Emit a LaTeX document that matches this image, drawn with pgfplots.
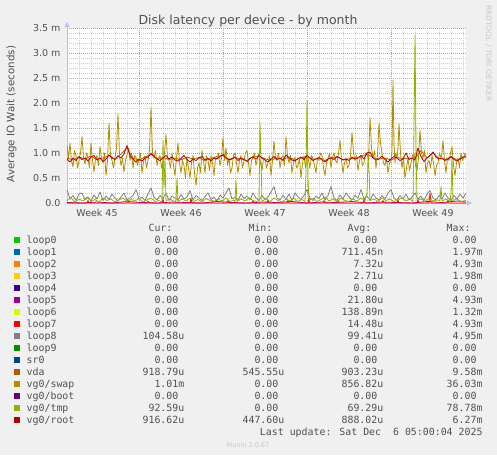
\documentclass[border=0pt]{standalone}
\usepackage{pgfplots}
\pgfplotsset{compat=1.18}
\usepackage{pgfplotstable}
\usetikzlibrary{arrows.meta}
\usepackage{fontspec}
\setmainfont{DejaVu Sans}
\newfontfamily\monofont{DejaVu Sans Mono}

\definecolor{bgc}{HTML}{F0F0F0}
\definecolor{txt}{HTML}{505050}
\definecolor{cloop0}{HTML}{00CC00}
\definecolor{cloop1}{HTML}{0066B3}
\definecolor{cloop2}{HTML}{FF8000}
\definecolor{cloop3}{HTML}{FFCC00}
\definecolor{cloop4}{HTML}{330099}
\definecolor{cloop5}{HTML}{990099}
\definecolor{cloop6}{HTML}{CCFF00}
\definecolor{cloop7}{HTML}{FF0000}
\definecolor{cloop8}{HTML}{808080}
\definecolor{cloop9}{HTML}{008F00}
\definecolor{csr0}{HTML}{00487D}
\definecolor{cvda}{HTML}{B35A00}
\definecolor{cswap}{HTML}{B38F00}
\definecolor{cboot}{HTML}{6B006B}
\definecolor{ctmp}{HTML}{8FB300}
\definecolor{croot}{HTML}{B30000}
\definecolor{mgrid}{HTML}{EC8A8A}
\definecolor{sgrid}{HTML}{CFCFCF}
\definecolor{axc}{HTML}{BEBEF0}

\pgfplotstableread{
x y
0 1.15
1.5 0.9
3 1.2
4.5 0.85
6 0.72
7.5 1.05
9 0.95
10.5 0.7
12 0.85
13.5 1.0
15 1.33
16.5 0.9
18 0.78
19.5 1.0
21 0.9
22.5 0.7
24 1.2
25.5 0.85
27 0.62
28.5 0.88
30 0.95
31.5 0.75
33 1.13
34.5 0.9
36 0.8
37.5 1.0
39 0.55
40.5 0.85
42 1.6
43.5 0.95
45 0.85
46.5 0.7
48 0.9
49.5 1.1
51 1.78
52.5 0.95
54 0.75
55.5 0.9
57 0.62
58.5 0.85
60 0.95
61.5 1.1
63 0.85
64.5 1.0
66 0.7
67.5 0.95
69 0.92
70.5 0.75
72 0.88
73.5 1.0
75 0.6
76.5 0.82
78 0.95
79.5 0.7
81 0.85
82.5 1.05
84 1.91
85.5 1.0
87 0.9
88.5 1.05
90 0.75
91.5 0.9
93 0.95
94.5 0.7
96 0.8
97.5 1.0
99 1.37
100.5 0.9
102 0.85
103.5 0.7
105 1.0
106.5 0.75
108 0.55
109.5 0.9
111 1.2
112.5 0.8
114 0.6
115.5 0.85
117 0.75
118.5 0.5
120 0.9
121.5 0.7
123 0.5
124.5 0.8
126 0.95
127.5 0.6
129 0.35
130.5 0.7
132 0.8
133.5 0.6
135 1.05
136.5 0.85
138 0.6
139.5 0.95
141 0.85
142.5 0.65
144 0.95
145.5 0.8
147 0.55
148.5 0.9
150 0.88
151.5 1.0
153 0.75
154.5 0.9
156 1.31
157.5 0.85
159 1.1
160.5 0.75
162 0.9
163.5 0.6
165 0.7
166.5 0.95
168 1.0
169.5 0.8
171 0.6
172.5 0.85
174 0.95
175.5 0.7
177 0.85
178.5 1.0
180 1.05
181.5 0.8
183 0.55
184.5 0.85
186 0.9
187.5 1.0
189 0.75
190.5 0.9
192 1.0
193.5 0.8
195 0.65
196.5 0.9
198 0.9
199.5 0.7
201 0.8
202.5 0.95
204 0.55
205.5 0.85
207 1.24
208.5 0.9
210 0.85
211.5 1.0
213 0.7
214.5 0.9
216 0.95
217.5 0.75
219 1.33
220.5 0.95
222 0.8
223.5 0.95
225 0.6
226.5 0.8
228 0.92
229.5 0.7
231 0.75
232.5 0.9
234 0.5
235.5 0.8
237 0.95
238.5 0.7
240 1.0
241.5 0.85
243 0.7
244.5 0.95
246 0.9
247.5 0.75
249 0.6
250.5 0.9
252 0.85
253.5 1.0
255 0.95
256.5 0.7
258 0.55
259.5 0.8
261 0.88
262.5 1.0
264 0.7
265.5 0.9
267 1.0
268.5 0.85
270 0.8
271.5 1.0
273 1.26
274.5 0.85
276 0.6
277.5 0.8
279 0.9
280.5 0.7
282 0.75
283.5 0.95
285 1.41
286.5 1.0
288 0.85
289.5 0.95
291 0.65
292.5 0.85
294 0.95
295.5 0.75
297 0.8
298.5 1.0
300 1.0
301.5 0.85
303 1.71
304.5 1.1
306 0.9
307.5 1.05
309 0.7
310.5 0.95
312 1.59
313.5 1.2
315 1.0
316.5 0.8
318 0.75
319.5 0.9
321 0.6
322.5 0.8
324 0.85
325 1.0
326 2.46
327 1.2
328 0.8
329 1.0
330 0.9
331 1.1
332 1.59
333.5 1.0
335 0.7
336.5 0.9
338 0.5
339.5 0.7
341 0.9
342.5 0.65
344 0.8
345.5 0.95
347 1.0
348.5 0.75
350 0.65
351.5 0.9
353 1.46
354.5 1.0
356 0.9
357.5 1.05
359 0.6
360.5 0.8
362 0.85
363.5 0.7
365 0.95
366.5 0.8
368 0.55
369.5 0.75
371 0.8
372.5 1.0
374 0.9
375 1.0
376 1.25
377.5 0.85
379 0.6
380.5 0.9
382 0.85
383.5 1.0
385 1.13
386.5 0.75
388 0.55
389.5 0.8
391 0.9
392.5 0.7
394 1.0
395.5 0.85
397 0.92
398 1.0
399 0.95
}\swaptab

\pgfplotstableread{
x y
0 0.88
3 0.82
6 0.9
9 0.85
12 0.93
15 0.87
18 0.9
21 0.84
24 0.92
27 0.95
30 0.86
33 0.9
36 0.83
39 0.88
42 0.96
45 0.9
48 0.87
51 0.94
54 0.9
57 0.98
60 1.15
63 0.95
66 0.88
69 0.82
72 0.87
75 0.84
78 0.9
81 0.92
84 0.99
87 0.93
90 0.88
93 0.85
96 0.9
99 0.95
102 0.88
105 0.92
108 0.86
111 0.84
114 0.89
117 0.95
120 0.87
123 0.82
126 0.88
129 0.85
132 0.9
135 0.93
138 0.86
141 0.89
144 0.84
147 0.9
150 0.88
153 0.93
156 0.97
159 0.9
162 0.86
165 0.88
168 0.92
171 0.85
174 0.9
177 0.87
180 0.83
183 0.89
186 0.92
189 0.88
192 0.95
195 0.9
198 0.86
201 0.82
204 0.88
207 0.93
210 0.87
213 0.9
216 0.85
219 0.96
222 0.9
225 0.86
228 0.84
231 0.89
234 0.92
237 0.87
240 0.95
243 0.9
246 0.85
249 0.88
252 0.91
255 0.86
258 0.82
261 0.88
264 0.9
267 0.87
270 0.93
273 0.9
276 0.86
279 0.88
282 0.85
285 0.92
288 0.88
291 0.9
294 0.95
297 0.88
300 1.0
303 1.02
306 0.9
309 0.86
312 0.88
315 0.94
318 0.87
321 0.82
324 0.88
327 0.93
330 0.9
333 0.85
336 0.88
339 1.0
342 0.87
345 0.9
348 0.86
351 1.1
354 0.93
357 0.83
360 0.9
363 0.95
366 1.02
369 0.92
372 0.88
375 0.9
378 0.85
381 0.88
384 0.93
387 0.87
390 0.84
393 0.88
396 0.92
399 0.93
}\roottab

\pgfplotstableread{
x y
0 0.9
6 0.86
12 0.92
18 0.88
24 0.94
30 0.87
36 0.9
42 0.95
48 0.88
54 0.98
60 1.1
66 0.9
72 0.86
78 0.92
84 0.97
90 0.89
96 0.91
102 0.87
108 0.9
114 0.86
120 0.92
126 0.88
132 0.91
138 0.85
144 0.89
150 0.93
156 0.95
162 0.87
168 0.91
174 0.88
180 0.85
186 0.93
192 0.94
198 0.88
204 0.86
210 0.9
216 0.87
222 0.92
228 0.86
234 0.9
240 0.94
246 0.87
252 0.9
258 0.85
264 0.91
270 0.92
276 0.87
282 0.88
288 0.9
294 0.93
300 0.98
306 0.91
312 0.88
318 0.9
324 0.86
330 0.91
336 0.89
342 0.9
348 0.88
354 1.05
360 0.9
366 1.0
372 0.89
378 0.87
384 0.92
390 0.86
396 0.91
399 0.92
}\vdatab

\pgfplotstableread{
x y
0 0.27
3 0.08
6 0.15
9 0.05
12 0.18
15 0.2
18 0.06
21 0.12
24 0.04
27 0.16
30 0.08
33 0.22
36 0.05
39 0.14
42 0.07
45 0.18
48 0.1
51 0.04
54 0.12
57 0.2
60 0.06
63 0.1
66 0.15
69 0.27
72 0.08
75 0.12
78 0.05
81 0.18
84 0.3
87 0.12
90 0.06
93 0.15
96 0.09
99 0.2
102 0.05
105 0.14
108 0.1
111 0.06
114 0.17
117 0.08
120 0.12
123 0.25
126 0.06
129 0.15
132 0.1
135 0.05
138 0.13
141 0.2
144 0.07
147 0.12
150 0.04
153 0.16
156 0.1
159 0.2
162 0.3
165 0.08
168 0.12
171 0.05
174 0.18
177 0.09
180 0.14
183 0.06
186 0.2
189 0.1
192 0.05
195 0.15
198 0.08
201 0.12
204 0.22
207 0.33
210 0.1
213 0.06
216 0.15
219 0.08
222 0.18
225 0.05
228 0.2
231 0.12
234 0.07
237 0.15
240 0.27
243 0.1
246 0.05
249 0.14
252 0.09
255 0.2
258 0.06
261 0.15
264 0.33
267 0.1
270 0.05
273 0.16
276 0.08
279 0.2
282 0.12
285 0.06
288 0.15
291 0.1
294 0.27
297 0.08
300 0.14
303 0.05
306 0.18
309 0.1
312 0.06
315 0.15
318 0.08
321 0.2
324 0.27
327 0.1
330 0.05
333 0.15
336 0.08
339 0.18
342 0.06
345 0.12
348 0.2
351 0.08
354 0.14
357 0.05
360 0.18
363 0.25
366 0.1
369 0.06
372 0.15
375 0.08
378 0.2
381 0.1
384 0.05
387 0.15
390 0.08
393 0.18
396 0.1
399 0.2
}\loopeighttab

\pgfplotstableread{
x y
0 0.05
4 0.1
8 0.02
12 0.08
16 0.04
20 0.12
24 0.03
28 0.07
32 0.02
36 0.1
40 0.05
44 0.08
48 0.02
52 0.06
56 0.1
60 0.03
64 0.07
68 0.04
72 0.09
76 0.02
80 0.06
84 0.1
88 0.03
92 0.05
95 0.02
96 1.25
97 0.3
98 0.9
99 0.05
103 0.08
107 0.03
109 0.05
110 0.5
111 0.03
115 0.08
119 0.04
123 0.1
127 0.03
131 0.07
135 0.02
139 0.09
143 0.05
147 0.03
151 0.08
155 0.04
159 0.1
163 0.03
167 0.06
168 0.02
169 0.45
170 0.03
174 0.08
178 0.04
182 0.1
186 0.05
190 0.03
192 0.05
193 1.62
194 0.9
195 0.04
199 0.08
203 0.03
207 0.1
211 0.05
215 0.02
219 0.08
223 0.04
227 0.1
231 0.03
235 0.07
238 0.03
239 0.6
240 2.06
241 0.5
242 0.05
246 0.09
250 0.03
254 0.07
258 0.12
262 0.04
266 0.08
270 0.02
274 0.1
278 0.05
282 0.03
286 0.08
290 0.04
294 0.1
298 0.05
300 0.2
301 0.86
302 0.7
303 0.05
307 0.08
311 0.03
315 0.1
319 0.05
323 0.08
327 0.03
331 0.06
335 0.1
339 0.04
343 0.08
346 0.03
347 1.5
348 3.35
349 1.2
350 0.05
354 0.08
358 0.03
362 0.1
366 0.04
370 0.06
373 0.05
374 0.33
375 0.04
379 0.08
383 0.03
384 0.2
385 0.9
386 0.05
390 0.08
394 0.03
399 0.05
}\tmptab

\pgfplotstableread{
x y
0 0
20 0
21 0.05
22 0
60 0
61 0.06
62 0
80 0
81 0.04
82 0
95 0
96 0.08
97 0
123 0
124 0.1
125 0
145 0
146 0.05
147 0
160 0
161 0.05
162 0
185 0
186 0.04
187 0
200 0
201 0.07
202 0
220 0
221 0.06
222 0
241 0
242 0.1
243 0
256 0
257 0.05
258 0
270 0
271 0.05
272 0
296 0
297 0.08
298 0
315 0
316 0.05
317 0
330 0
331 0.06
332 0
350 0
351 0.07
352 0
362 0
363 0.2
364 0
380 0
381 0.06
382 0
399 0
}\loopseventab

\pgfplotstableread{
x y
0 0.01
15 0.0
30 0.02
45 0.0
60 0.03
75 0.01
90 0.0
105 0.02
120 0.01
135 0.0
150 0.03
165 0.01
180 0.0
195 0.02
210 0.01
225 0.03
240 0.0
255 0.02
270 0.01
285 0.03
300 0.0
315 0.02
330 0.01
345 0.0
360 0.03
375 0.01
390 0.04
399 0.02
}\loopfivetab

\newcommand\lrow[7]{%
  \fill[#2] (14,#1-0.4) rectangle (20.3,#1-6.7);
  \node[anchor=base west] at (26.7,#1) {#3};
  \node[anchor=base east] at (184.3,#1) {#4};
  \node[anchor=base east] at (284.3,#1) {#5};
  \node[anchor=base east] at (383.3,#1) {#6};
  \node[anchor=base east] at (482.5,#1) {#7};
}
\newcommand\ph{\phantom{0}}

\begin{document}
\begin{tikzpicture}
\fill[bgc] (0pt,0pt) rectangle (497pt,-455pt);

\begin{axis}[
  at={(67pt,-203pt)}, anchor=south west,
  scale only axis, width=399pt, height=175pt,
  xmin=0, xmax=399, ymin=0, ymax=3.5,
  axis background/.style={fill=white},
  axis lines=left,
  axis line style={draw=axc, line width=0.8pt},
  every outer x axis line/.append style={-{Triangle[length=5pt,width=5pt]}, shorten >=-6pt},
  every outer y axis line/.append style={-{Triangle[length=5pt,width=5pt]}, shorten >=-6pt},
  xtick={72,156,240,324}, xticklabels={},
  minor xtick={0,12,...,396},
  ytick={0,0.5,...,3.5},
  yticklabels={0.0,0.5 m,1.0 m,1.5 m,2.0 m,2.5 m,3.0 m,3.5 m},
  minor y tick num=4,
  extra x ticks={30,114,198,282,366},
  extra x tick labels={Week 45,Week 46,Week 47,Week 48,Week 49},
  extra x tick style={grid=none, major tick length=0pt,
     xticklabel style={anchor=base, yshift=-13pt}},
  major tick length=0pt, minor tick length=0pt,
  grid=both,
  major grid style={draw=mgrid, line width=0.6pt, dash pattern=on 1pt off 1pt},
  minor grid style={draw=sgrid, line width=0.6pt, dash pattern=on 1pt off 1pt},
  ticklabel style={font=\fontsize{9.5}{10}\selectfont, text=txt},
  yticklabel style={anchor=east, xshift=-3pt},
  /pgf/number format/assume math mode=true,
  every axis plot/.append style={line width=0.8pt, line join=round},
]
\addplot[cloop5, no markers] table {\loopfivetab};
\addplot[cloop7, no markers] table {\loopseventab};
\addplot[cloop8, no markers] table {\loopeighttab};
\addplot[cvda, no markers] table {\vdatab};
\addplot[cswap, no markers] table {\swaptab};
\addplot[ctmp, no markers] table {\tmptab};
\addplot[croot, no markers] table {\roottab};
\end{axis}

\begin{scope}[x=1pt, y=-1pt, every node/.style={inner sep=0pt, outer sep=0pt}]
\node[anchor=base, text={rgb,255:red,80;green,80;blue,80}, font=\fontsize{12.5}{13}\selectfont] at (248,24) {Disk latency per device - by month};
\node[rotate=90, text=txt, font=\fontsize{10.3}{11}\selectfont] at (11.5,114) {Average IO Wait (seconds)};
\node[rotate=-90, text={rgb,255:red,200;green,200;blue,200}, font=\fontsize{7.5}{8}\selectfont] at (488.5,53.5) {RRDTOOL / TOBI OETIKER};

\begin{scope}[every node/.append style={text=txt, font=\monofont\fontsize{9.9}{10}\selectfont}]
\node[anchor=base east] at (184.3,231) {Cur:\ph\ph};
\node[anchor=base east] at (284.3,231) {Min:\ph\ph};
\node[anchor=base east] at (383.3,231) {Avg:\ph\ph};
\node[anchor=base east] at (482.5,231) {Max:\ph\ph};
\lrow{243.3}{cloop0}{loop0}{0.00\ph}{0.00\ph}{0.00\ph}{0.00\ph}
\lrow{255.3}{cloop1}{loop1}{0.00\ph}{0.00\ph}{711.45n}{1.97m}
\lrow{267.3}{cloop2}{loop2}{0.00\ph}{0.00\ph}{7.32u}{4.93m}
\lrow{279.3}{cloop3}{loop3}{0.00\ph}{0.00\ph}{2.71u}{1.98m}
\lrow{291.3}{cloop4}{loop4}{0.00\ph}{0.00\ph}{0.00\ph}{0.00\ph}
\lrow{303.4}{cloop5}{loop5}{0.00\ph}{0.00\ph}{21.80u}{4.93m}
\lrow{315.4}{cloop6}{loop6}{0.00\ph}{0.00\ph}{138.89n}{1.32m}
\lrow{327.4}{cloop7}{loop7}{0.00\ph}{0.00\ph}{14.48u}{4.93m}
\lrow{339.4}{cloop8}{loop8}{104.58u}{0.00\ph}{99.41u}{4.95m}
\lrow{351.4}{cloop9}{loop9}{0.00\ph}{0.00\ph}{0.00\ph}{0.00\ph}
\lrow{363.4}{csr0}{sr0}{0.00\ph}{0.00\ph}{0.00\ph}{0.00\ph}
\lrow{375.4}{cvda}{vda}{918.79u}{545.55u}{903.23u}{9.58m}
\lrow{387.4}{cswap}{vg0/swap}{1.01m}{0.00\ph}{856.82u}{36.03m}
\lrow{399.4}{cboot}{vg0/boot}{0.00\ph}{0.00\ph}{0.00\ph}{0.00\ph}
\lrow{411.4}{ctmp}{vg0/tmp}{92.59u}{0.00\ph}{69.29u}{78.78m}
\lrow{423.3}{croot}{vg0/root}{916.62u}{447.60u}{888.02u}{6.27m}
\node[anchor=base east] at (482.5,435.3) {Last update: Sat Dec~~6 05:00:04 2025};
\end{scope}
\node[anchor=base, text={rgb,255:red,200;green,200;blue,200}, font=\fontsize{6.5}{7}\selectfont] at (248,447) {Munin 2.0.67};
\end{scope}

\pgfresetboundingbox
\useasboundingbox (0pt,0pt) rectangle (497pt,-455pt);
\end{tikzpicture}
\end{document}
